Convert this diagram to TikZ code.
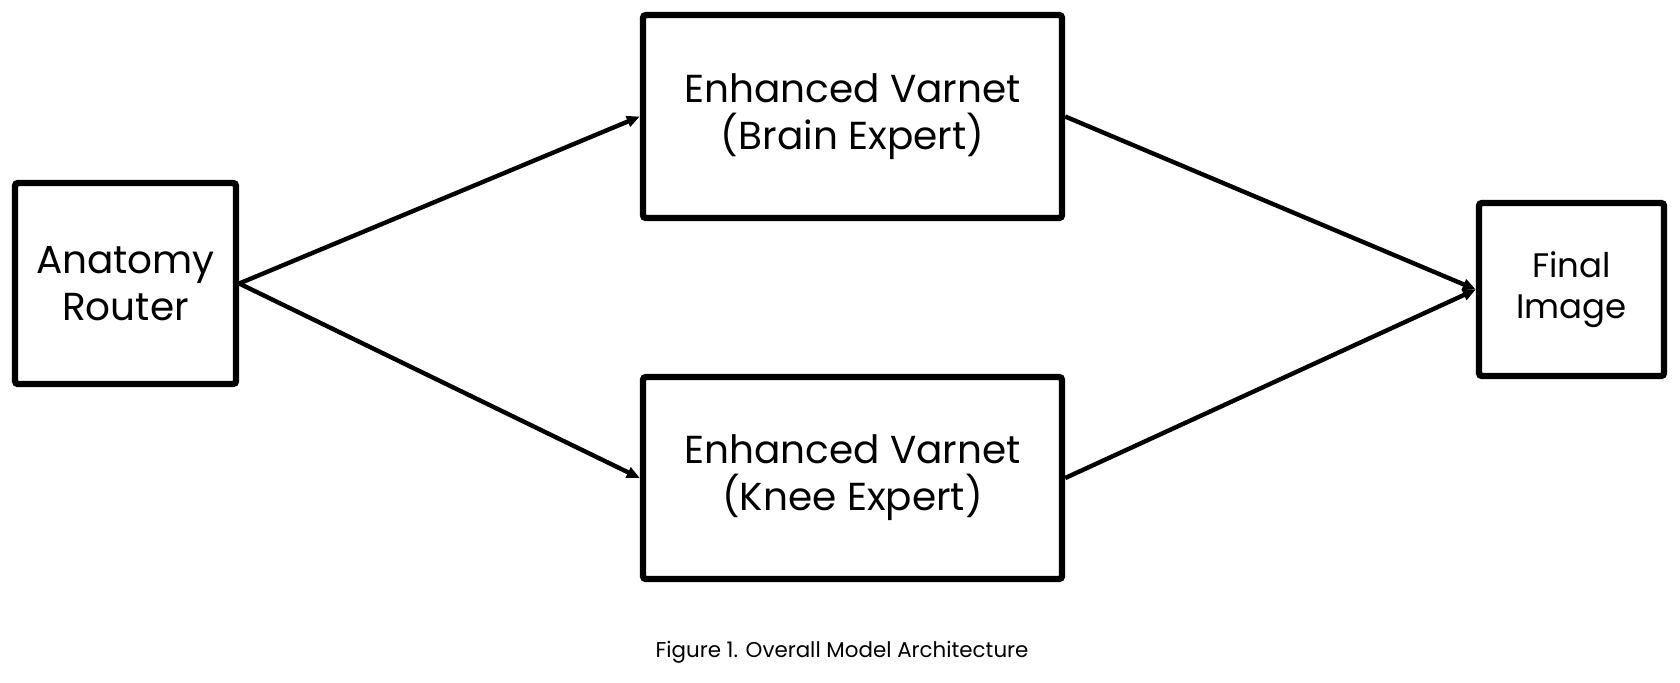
\documentclass[tikz,border=0pt]{standalone}
\usepackage{fontspec}
\setmainfont{Poppins}
\usetikzlibrary{arrows.meta}

\begin{document}
\begin{tikzpicture}[x=0.5pt,y=-0.5pt,
  block/.style={draw,line width=3.2pt,rounded corners=1.5pt,align=center,inner sep=0pt,
    font=\fontsize{19.5}{23.5}\selectfont},
  flow/.style={-{Triangle[length=6.5pt,width=5.5pt]},line width=2.2pt}]
\useasboundingbox (0,0) rectangle (1680,682);

\node [block,minimum width=110.5pt,minimum height=100.5pt] (router) at (125.5,283.5) {Anatomy\\Router};
\node [block,minimum width=209.5pt,minimum height=101.5pt] (brain) at (852.5,116.5) {Enhanced Varnet\\(Brain Expert)};
\node [block,minimum width=209.5pt,minimum height=101pt] (knee) at (852.5,478) {Enhanced Varnet\\(Knee Expert)};
\node [block,minimum width=92.5pt,minimum height=86.5pt,font=\fontsize{17}{20.5}\selectfont] (final) at (1571.5,289.5) {Final\\Image};

\draw [flow] (router.east) -- (brain.west);
\draw [flow] (router.east) -- (knee.west);
\draw [flow] (brain.east) -- (final.west);
\draw [flow] (knee.east) -- (final.west);

\node [font=\fontsize{10.7}{12}\selectfont] (caption) at (842,652) {Figure 1. Overall Model Architecture};
\end{tikzpicture}
\end{document}
